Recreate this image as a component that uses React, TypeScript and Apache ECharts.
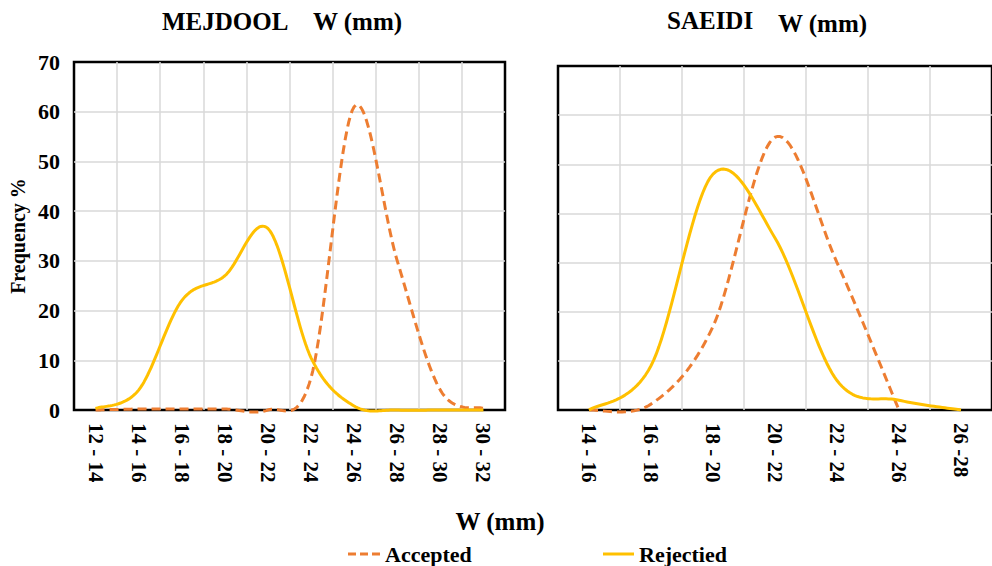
import React, { useEffect, useRef } from "react";
import * as echarts from "echarts";

const catsMejdool = ["12 - 14", "14 - 16", "16 - 18", "18 - 20", "20 - 22", "22 - 24", "24 - 26", "26 - 28", "28 - 30", "30 - 32"];
const mejdoolAccepted = [0, 0.2, 0.2, 0.2, 0, 6.5, 61, 30, 4, 0.3];
const mejdoolRejected = [0.3, 4, 22, 27, 36.5, 10.5, 0.8, 0, 0, 0];

const catsSaeidi = ["14 - 16", "16 - 18", "18 - 20", "20 - 22", "22 - 24", "24 - 26", "26 -28"];
const saeidiAccepted: (number | null)[] = [0, 1.2, 17, 55.5, 30, 0, null];
const saeidiRejected = [0, 9, 48, 35, 6, 2, 0];

const yTicks = { min: 0, max: 70, interval: 10 };

const ORANGE = "#ED7D31";
const GOLD = "#FFC000";
const FONT = "'Liberation Serif', 'Times New Roman', serif";
const DASH_ICON = "path://M0,0h8v3h-8zM12,0h8v3h-8zM24,0h8v3h-8z";

// Catmull-Rom style smoothing (like a spreadsheet's "smoothed line"), sampled into a polyline
function smoothPoints(pts: number[][]): number[][] {
  const n = pts.length;
  if (n < 2) return pts;
  const out: number[][] = [pts[0]];
  const STEPS = 24;
  for (let i = 0; i < n - 1; i++) {
    const p0 = pts[Math.max(0, i - 1)];
    const p1 = pts[i];
    const p2 = pts[i + 1];
    const p3 = pts[Math.min(n - 1, i + 2)];
    const c1 = [p1[0] + (p2[0] - p0[0]) / 6, p1[1] + (p2[1] - p0[1]) / 6];
    const c2 = [p2[0] - (p3[0] - p1[0]) / 6, p2[1] - (p3[1] - p1[1]) / 6];
    for (let s = 1; s <= STEPS; s++) {
      const t = s / STEPS;
      const u = 1 - t;
      const a = u * u * u, b = 3 * u * u * t, c = 3 * u * t * t, d = t * t * t;
      out.push([
        a * p1[0] + b * c1[0] + c * c2[0] + d * p2[0],
        a * p1[1] + b * c1[1] + c * c2[1] + d * p2[1],
      ]);
    }
  }
  return out;
}

function curveSeries(
  name: string,
  axis: number,
  values: (number | null)[],
  color: string,
  dashed: boolean
) {
  return {
    name,
    type: "custom",
    xAxisIndex: axis,
    yAxisIndex: axis,
    data: values.map((v, i) => [i, v]),
    itemStyle: { color },
    encode: { x: 0, y: 1 },
    renderItem: (params: any, api: any) => {
      if (params.dataIndex !== 0) return null;
      const pts: number[][] = [];
      values.forEach((v, i) => {
        if (v !== null && v !== undefined) pts.push(api.coord([i, v]));
      });
      return {
        type: "polyline",
        shape: { points: smoothPoints(pts) },
        style: {
          stroke: color,
          lineWidth: 3,
          fill: null,
          lineDash: dashed ? [9, 5] : null,
          lineJoin: "round",
        },
      };
    },
  };
}

export default function App() {
  const ref = useRef<HTMLDivElement>(null);
  useEffect(() => {
    if (!ref.current) return;
    const chart = echarts.init(ref.current, null, { renderer: "svg" });
    const xAxisBase = (idx: number, data: string[]) => ({
      type: "category" as const,
      gridIndex: idx,
      data,
      boundaryGap: true,
      axisLine: { show: false },
      axisTick: { show: false },
      axisLabel: {
        rotate: -90,
        interval: 0,
        margin: 13,
        color: "#000",
        fontFamily: FONT,
        fontWeight: "bold",
        fontSize: 21,
      },
      splitLine: {
        show: true,
        interval: 0,
        showMinLine: false,
        showMaxLine: false,
        lineStyle: { color: "#D9D9D9", width: 1.5 },
      },
    });
    const yAxisBase = (idx: number, showLabels: boolean) => ({
      type: "value" as const,
      gridIndex: idx,
      ...yTicks,
      axisLine: { show: false },
      axisTick: { show: false },
      axisLabel: {
        show: showLabels,
        margin: 14,
        color: "#000",
        fontFamily: FONT,
        fontWeight: "bold",
        fontSize: 22,
      },
      splitLine: {
        show: true,
        showMinLine: false,
        showMaxLine: false,
        lineStyle: { color: "#D9D9D9", width: 1.5 },
      },
    });
    const textStyle = (size: number) => ({
      font: `bold ${size}px ${FONT}`,
      fill: "#000",
      textVerticalAlign: "middle",
    });
    const legendText = { color: "#000", fontFamily: FONT, fontWeight: "bold", fontSize: 22 };
    chart.setOption({
      animation: false,
      backgroundColor: "#fff",
      grid: [
        { left: 74, top: 62, width: 431, height: 348, show: true, borderColor: "#000", borderWidth: 2.5, backgroundColor: "transparent" },
        { left: 558, top: 66, width: 447, height: 344, show: true, borderColor: "#000", borderWidth: 2.5, backgroundColor: "transparent" },
      ],
      xAxis: [xAxisBase(0, catsMejdool), xAxisBase(1, catsSaeidi)],
      yAxis: [
        {
          ...yAxisBase(0, true),
          name: "Frequency %",
          nameLocation: "middle",
          nameRotate: 90,
          nameGap: 46,
          nameTextStyle: { color: "#000", fontFamily: FONT, fontWeight: "bold", fontSize: 20 },
        },
        yAxisBase(1, false),
      ],
      legend: [
        {
          data: [{ name: "Accepted", icon: DASH_ICON }],
          left: 343,
          top: 538,
          itemWidth: 32,
          itemHeight: 3,
          textStyle: legendText,
        },
        {
          data: [{ name: "Rejectied", icon: "rect" }],
          left: 598,
          top: 538,
          itemWidth: 31,
          itemHeight: 3,
          textStyle: legendText,
        },
      ],
      graphic: [
        { type: "text", x: 162, y: 21, style: { text: "MEJDOOL", ...textStyle(25) } },
        { type: "text", x: 313, y: 21, style: { text: "W (mm)", ...textStyle(25) } },
        { type: "text", x: 667, y: 20, style: { text: "SAEIDI", ...textStyle(25) } },
        { type: "text", x: 778, y: 23, style: { text: "W (mm)", ...textStyle(25) } },
        { type: "text", x: 500, y: 521, style: { text: "W (mm)", ...textStyle(25), textAlign: "center" } },
      ],
      series: [
        curveSeries("Accepted", 0, mejdoolAccepted, ORANGE, true),
        curveSeries("Rejectied", 0, mejdoolRejected, GOLD, false),
        curveSeries("Accepted", 1, saeidiAccepted, ORANGE, true),
        curveSeries("Rejectied", 1, saeidiRejected, GOLD, false),
      ],
    });
    return () => chart.dispose();
  }, []);
  return (
    <div
      ref={ref}
      style={{ position: "absolute", left: 0, top: 0, width: 992, height: 566, overflow: "hidden" }}
    />
  );
}
